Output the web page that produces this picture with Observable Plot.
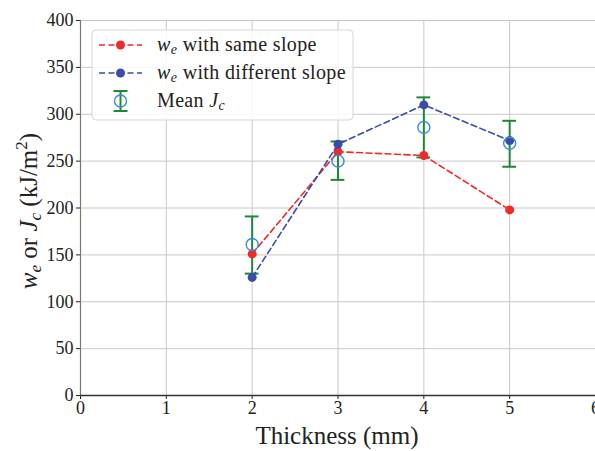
<!DOCTYPE html>
<html>
<head>
<meta charset="utf-8">
<script src="https://cdn.jsdelivr.net/npm/d3@7"></script>
<script src="https://cdn.jsdelivr.net/npm/@observablehq/plot@0.6"></script>
<style>
  html, body { margin: 0; padding: 0; background: white; }
  #chart { width: 595px; height: 451px; overflow: hidden; }
</style>
</head>
<body>
<div id="chart"></div>
<script>
// ---- data ----
const thickness = [2, 3, 4, 5];
const weSameSlope = [151, 260, 256, 198];
const weDiffSlope = [126, 268, 310, 272];
const jcMean = [161, 250, 286, 269];
const jcLow = [130, 230, 254, 244];
const jcHigh = [191, 271, 318, 293];
const xTicks = [0, 1, 2, 3, 4, 5, 6];
const yTicks = [0, 50, 100, 150, 200, 250, 300, 350, 400];
const legendLabels = ["with same slope", "with different slope", "Mean "];

const rows = thickness.map((t, i) => ({
  t, same: weSameSlope[i], diff: weDiffSlope[i],
  mean: jcMean[i], low: jcLow[i], high: jcHigh[i]
}));

const RED = "#ee2a2a", BLUE = "#3a4ca8", GREEN = "#1c8a34", CIRC = "#3a8dd0";
const FONT = "'Liberation Serif', 'DejaVu Serif', serif";
const capHalf = 0.08;

const chart = Plot.plot({
  width: 595, height: 451,
  marginLeft: 80, marginRight: 0, marginTop: 20, marginBottom: 56,
  style: { fontFamily: FONT, fontSize: "18px", color: "#222", background: "white", overflow: "visible" },
  x: { domain: [0, 6], ticks: xTicks, tickFormat: "d", tickSize: 4, tickPadding: 2, label: null },
  y: { domain: [0, 400], ticks: yTicks, tickFormat: "d", tickSize: 4, tickPadding: 3, label: null },
  marks: [
    Plot.ruleX(xTicks, { stroke: "#c8c8c8", strokeWidth: 1 }),
    Plot.ruleY(yTicks, { stroke: "#c8c8c8", strokeWidth: 1 }),
    Plot.ruleX([0], { stroke: "#777", strokeWidth: 1.2 }),
    Plot.ruleY([0], { stroke: "#333", strokeWidth: 1.6 }),
    // error bars
    Plot.ruleX(rows, { x: "t", y1: "low", y2: "high", stroke: GREEN, strokeWidth: 2 }),
    Plot.ruleY(rows, { y: "low", x1: d => d.t - capHalf, x2: d => d.t + capHalf, stroke: GREEN, strokeWidth: 2 }),
    Plot.ruleY(rows, { y: "high", x1: d => d.t - capHalf, x2: d => d.t + capHalf, stroke: GREEN, strokeWidth: 2 }),
    // lines
    Plot.line(rows, { x: "t", y: "same", stroke: RED, strokeWidth: 1.6, strokeDasharray: "6,3.5" }),
    Plot.dot(rows, { x: "t", y: "same", fill: RED, r: 4.5 }),
    Plot.line(rows, { x: "t", y: "diff", stroke: BLUE, strokeWidth: 1.6, strokeDasharray: "6,3.5" }),
    Plot.dot(rows, { x: "t", y: "diff", fill: BLUE, r: 4.5 }),
    // mean Jc open circles
    Plot.dot(rows, { x: "t", y: "mean", stroke: CIRC, fill: "none", r: 6, strokeWidth: 1.4 })
  ]
});

document.getElementById("chart").appendChild(chart);
const svg = d3.select(chart);

// x axis label
svg.append("text")
  .attr("x", 337).attr("y", 444)
  .attr("text-anchor", "middle")
  .style("font-family", FONT).style("font-size", "25px").attr("fill", "#222")
  .text("Thickness (mm)");

// y axis label with math-style formatting
const yl = svg.append("text")
  .attr("transform", "translate(37,211) rotate(-90)")
  .attr("text-anchor", "middle")
  .style("font-family", FONT).style("font-size", "25px").attr("fill", "#222");
yl.append("tspan").style("font-style", "italic").text("w");
yl.append("tspan").style("font-style", "italic").style("font-size", "17px").attr("dy", 4).text("e");
yl.append("tspan").attr("dy", -4).text(" or ");
yl.append("tspan").style("font-style", "italic").text("J");
yl.append("tspan").style("font-style", "italic").style("font-size", "17px").attr("dy", 4).text("c");
yl.append("tspan").attr("dy", -4).text(" (kJ/m");
yl.append("tspan").style("font-size", "17px").attr("dy", -10).text("2");
yl.append("tspan").attr("dy", 10).text(")");

// legend
const lg = svg.append("g").attr("text-anchor", "start");
lg.append("rect")
  .attr("x", 92).attr("y", 30).attr("width", 261).attr("height", 90)
  .attr("rx", 4).attr("fill", "white").attr("fill-opacity", 0.85)
  .attr("stroke", "#d6d6d6").attr("stroke-width", 1);

const rowY = [45, 73, 101];
[[RED, legendLabels[0]], [BLUE, legendLabels[1]]].forEach(([c, lab], i) => {
  lg.append("line").attr("x1", 99).attr("x2", 142).attr("y1", rowY[i]).attr("y2", rowY[i])
    .attr("stroke", c).attr("stroke-width", 1.6).attr("stroke-dasharray", "6,3.5");
  lg.append("circle").attr("cx", 120.5).attr("cy", rowY[i]).attr("r", 4.5).attr("fill", c);
  const t = lg.append("text").attr("x", 157).attr("y", rowY[i] + 6).attr("text-anchor", "start")
    .style("font-family", FONT).style("font-size", "20px").style("letter-spacing", "0.35px").attr("fill", "#222");
  t.append("tspan").style("font-style", "italic").text("w");
  t.append("tspan").style("font-style", "italic").style("font-size", "14px").attr("dy", 3).text("e");
  t.append("tspan").attr("dy", -3).text(" " + lab);
});
// error bar legend symbol
const ey = rowY[2];
lg.append("line").attr("x1", 120.5).attr("x2", 120.5).attr("y1", ey - 10).attr("y2", ey + 10)
  .attr("stroke", GREEN).attr("stroke-width", 2);
lg.append("line").attr("x1", 113.5).attr("x2", 127.5).attr("y1", ey - 10).attr("y2", ey - 10)
  .attr("stroke", GREEN).attr("stroke-width", 2);
lg.append("line").attr("x1", 113.5).attr("x2", 127.5).attr("y1", ey + 10).attr("y2", ey + 10)
  .attr("stroke", GREEN).attr("stroke-width", 2);
lg.append("circle").attr("cx", 120.5).attr("cy", ey).attr("r", 6)
  .attr("fill", "none").attr("stroke", CIRC).attr("stroke-width", 1.4);
const t3 = lg.append("text").attr("x", 157).attr("y", ey + 6).attr("text-anchor", "start")
  .style("font-family", FONT).style("font-size", "20px").style("letter-spacing", "0.35px").attr("fill", "#222");
t3.append("tspan").text(legendLabels[2]);
t3.append("tspan").style("font-style", "italic").text("J");
t3.append("tspan").style("font-style", "italic").style("font-size", "14px").attr("dy", 3).text("c");
</script>
</body>
</html>
